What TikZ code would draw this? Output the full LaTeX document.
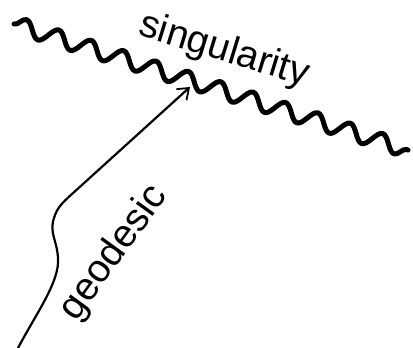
\documentclass[tikz,border=0pt]{standalone}
\usepackage{fontspec}
\setmainfont{Liberation Sans}
\usetikzlibrary{decorations.pathmorphing,arrows.meta}
\begin{document}
\begin{tikzpicture}[x=1pt,y=-1pt,
  sing/.style={line width=5pt,line cap=round,line join=round,decorate,
    decoration={snake,segment length=34pt,amplitude=8pt,pre length=0pt,post length=0pt}},
  geo/.style={line width=2.2pt,-{Straight Barb[length=10pt,width=15pt,line width=1.8pt]}},
  lab/.style={font=\fontsize{39}{42}\selectfont,inner sep=0pt}]
\useasboundingbox (0,0) rectangle (413,348);
\coordinate (s0) at (14,24);
\coordinate (s1) at (408,150);
\draw[sing] (s0) -- (s1);
\coordinate (g0) at (17,350);
\coordinate (g1) at (58,258);
\coordinate (g2) at (54,218);
\coordinate (tip) at (190,87);
\draw[geo] (g0) .. controls (35,315) and (60,282) .. (g1)
  .. controls (57,240) and (49,233) .. (g2)
  .. controls (57,208) and (62,203) .. (72,194) -- (tip);
\node[lab,rotate=-17] (tsing) at (224,51) {singularity};
\node[lab,rotate=54] (tgeo) at (114,253) {geodesic};
\end{tikzpicture}
\end{document}
